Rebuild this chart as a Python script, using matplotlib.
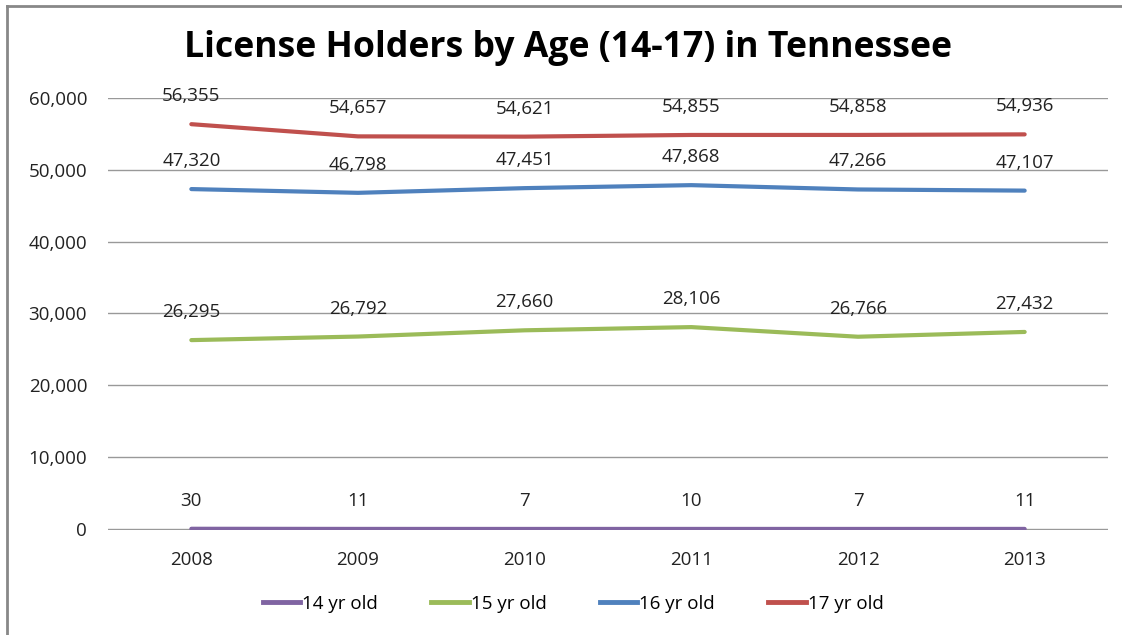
import matplotlib.pyplot as plt
from matplotlib.lines import Line2D

years = ['2008', '2009', '2010', '2011', '2012', '2013']
age14 = [30, 11, 7, 10, 7, 11]
age15 = [26295, 26792, 27660, 28106, 26766, 27432]
age16 = [47320, 46798, 47451, 47868, 47266, 47107]
age17 = [56355, 54657, 54621, 54855, 54858, 54936]

series = [
    ('14 yr old', age14, '#8064A2'),
    ('15 yr old', age15, '#9BBB59'),
    ('16 yr old', age16, '#4F81BD'),
    ('17 yr old', age17, '#C0504D'),
]

plt.rcParams['font.family'] = ['Open Sans', 'DejaVu Sans']

W, H = 1122, 635
fig = plt.figure(figsize=(W / 100, H / 100), dpi=100)
ax = fig.add_axes([108 / W, 1 - 530 / H, 1000 / W, (530 - 98) / H])

x = list(range(len(years)))
for name, vals, color in series:
    ax.plot(x, vals, color=color, lw=3, label=name, solid_capstyle='round', zorder=3)
    for xi, v in zip(x, vals):
        ax.annotate(f'{v:,}', (xi, v), xytext=(0, 28), textcoords='offset pixels',
                    ha='center', va='center', fontsize=13.5, color='#222222')

ax.set_xlim(-0.5, 5.5)
ax.set_ylim(-140, 60000)
ax.set_yticks(range(0, 60001, 10000))
ax.set_yticklabels([f'{v:,}' for v in range(0, 60001, 10000)])
ax.set_xticks(x)
ax.set_xticklabels(years)
ax.grid(axis='y', color='#999999', lw=1)
ax.set_axisbelow(True)
for s in ax.spines.values():
    s.set_visible(False)
ax.tick_params(length=0, labelsize=13.5, colors='#222222')
ax.tick_params(axis='y', pad=15)
ax.tick_params(axis='x', pad=15)

fig.text(568 / W, 1 - 48 / H, 'License Holders by Age (14-17) in Tennessee',
         ha='center', va='center', fontsize=25.7, fontweight='bold')

handles = [Line2D([0], [0], color=c, lw=3.5) for _, _, c in series]
fig.legend(handles, [n for n, _, _ in series], loc='center', ncol=4,
           bbox_to_anchor=(573 / W, 1 - 604 / H), frameon=False, fontsize=13.5,
           handlelength=2.0, handletextpad=0.1, columnspacing=2.85)

fig.add_artist(Line2D([7 / W, 7 / W], [0, 1 - 6 / H], color='#888888', lw=2,
                      transform=fig.transFigure))
fig.add_artist(Line2D([7 / W, 1], [1 - 6 / H, 1 - 6 / H], color='#888888', lw=2,
                      transform=fig.transFigure))

fig.savefig('out.png', dpi=100)
